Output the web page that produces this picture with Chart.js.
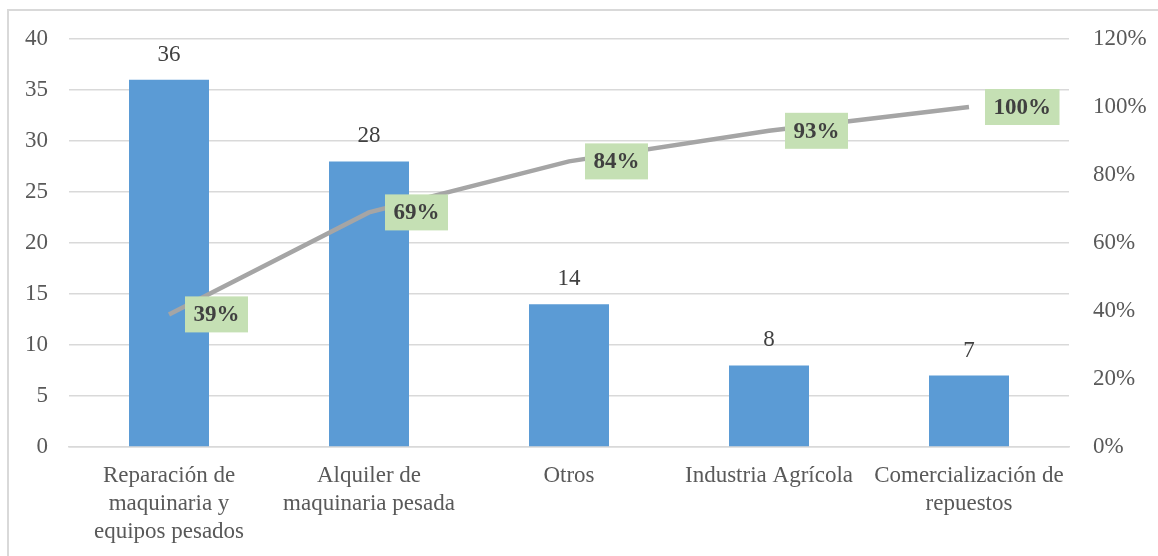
<!DOCTYPE html>
<html>
<head>
<meta charset="utf-8">
<script src="https://cdn.jsdelivr.net/npm/chart.js@4"></script>
<style>
  html, body { margin: 0; padding: 0; background: #fff; }
  #wrap { position: relative; width: 1158px; height: 556px; overflow: hidden; }
  #frame { position: absolute; left: 7px; top: 9px; width: 1170px; height: 570px;
           border: 2px solid #D9D9D9; box-sizing: border-box; pointer-events: none; }
  canvas { position: absolute; left: 0; top: 0; }
</style>
</head>
<body>
<div id="wrap">
  <canvas id="paretoChart" width="1158" height="556"></canvas>
  <div id="frame"></div>
</div>
<script>
// Pareto — cantidad por rubro + % acumulado
const categories = [
  ['Reparación de', 'maquinaria y', 'equipos pesados'],
  ['Alquiler de', 'maquinaria pesada'],
  'Otros',
  'Industria Agrícola',
  ['Comercialización de', 'repuestos']
];
const counts     = [36, 28, 14, 8, 7];
const cumPercent = [39, 69, 84, 93, 100];
const leftTicks  = [0, 5, 10, 15, 20, 25, 30, 35, 40];
const rightTicks = [0, 20, 40, 60, 80, 100, 120];

(function(){
  const FONT = "'Liberation Serif', 'Times New Roman', serif";
  const SIZE = 23;

  // value labels: above bars, green boxes right of line points
  const labelPlugin = {
    id: 'labels',
    afterDatasetsDraw(chart) {
      const ctx = chart.ctx;
      ctx.save();
      ctx.textBaseline = 'middle';

      const bars = chart.getDatasetMeta(0).data;
      ctx.font = SIZE + 'px ' + FONT;
      ctx.fillStyle = '#404040';
      ctx.textAlign = 'center';
      bars.forEach((b, i) => ctx.fillText(String(counts[i]), b.x, b.y - 25));

      const pts = chart.getDatasetMeta(1).data;
      ctx.font = 'bold ' + SIZE + 'px ' + FONT;
      ctx.textAlign = 'left';
      pts.forEach((p, i) => {
        const txt = cumPercent[i] + '%';
        const w = ctx.measureText(txt).width + 17;
        const h = 36;
        const x = p.x + 16, y = p.y - h / 2;
        ctx.fillStyle = '#C5E0B4';
        ctx.fillRect(x, y, w, h);
        ctx.fillStyle = '#404040';
        ctx.fillText(txt, x + 8.5, p.y + 1);
      });
      ctx.restore();
    }
  };

  new Chart(document.getElementById('paretoChart'), {
    data: {
      labels: categories,
      datasets: [
        { type: 'bar', data: counts, yAxisID: 'y', order: 2,
          backgroundColor: '#5B9BD5', barPercentage: 0.4, categoryPercentage: 1 },
        { type: 'line', data: cumPercent, yAxisID: 'y1', order: 1,
          borderColor: '#A5A5A5', borderWidth: 4.5, pointRadius: 0, tension: 0,
          borderCapStyle: 'butt', fill: false }
      ]
    },
    options: {
      responsive: false, animation: false,
      layout: { padding: { top: 39, bottom: 0, left: 0, right: 0 } },
      plugins: { legend: { display: false }, tooltip: { enabled: false } },
      scales: {
        x: {
          grid: { display: false, drawTicks: false },
          border: { color: '#D9D9D9', width: 1.5 },
          ticks: { color: '#595959', padding: 15, maxRotation: 0, autoSkip: false,
                   font: { family: FONT, size: SIZE, lineHeight: 1.22 } },
          afterFit: s => { s.height = 109; }
        },
        y: {
          position: 'left', min: 0, max: 40,
          afterBuildTicks: s => { s.ticks = leftTicks.map(v => ({ value: v })); },
          grid: { color: '#D9D9D9', lineWidth: 1.5, drawTicks: false },
          border: { display: false },
          ticks: { color: '#595959', padding: 21, font: { family: FONT, size: SIZE } },
          afterFit: s => { s.width = 69; }
        },
        y1: {
          position: 'right', min: 0, max: 120,
          afterBuildTicks: s => { s.ticks = rightTicks.map(v => ({ value: v })); },
          grid: { display: false, drawTicks: false },
          border: { display: false },
          ticks: { color: '#595959', padding: 24, callback: v => v + '%',
                   font: { family: FONT, size: SIZE } },
          afterFit: s => { s.width = 89; }
        }
      }
    },
    plugins: [labelPlugin]
  });
})();
</script>
</body>
</html>
